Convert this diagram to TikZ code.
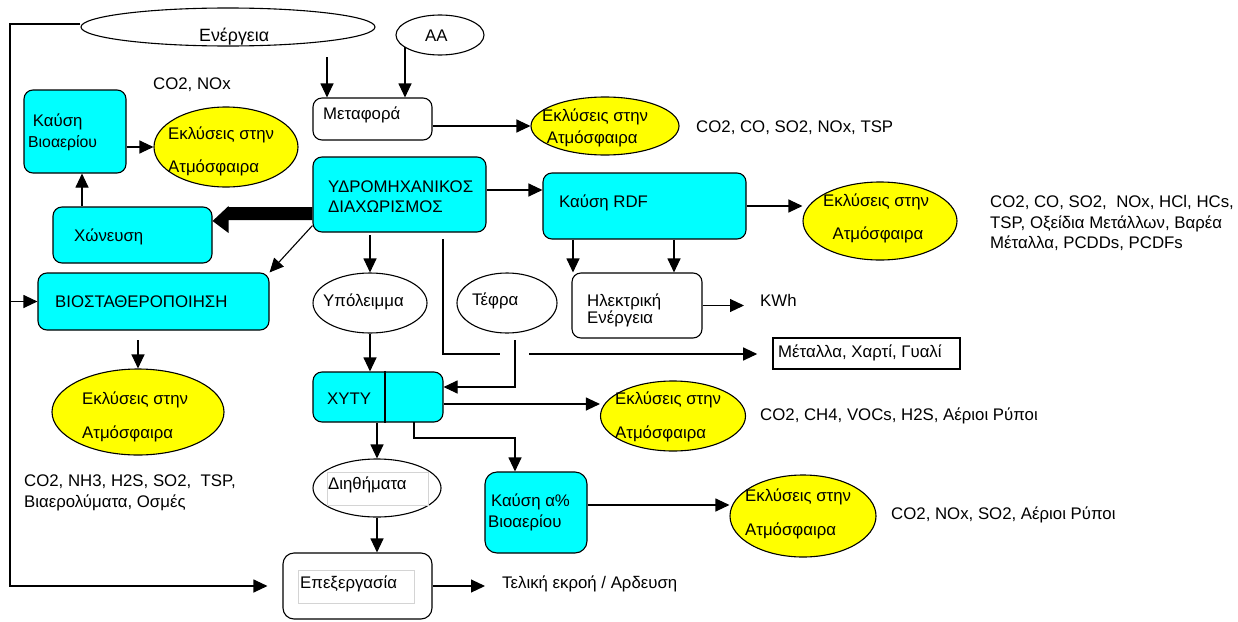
\documentclass[tikz,border=0pt]{standalone}
\usepackage{fontspec}
\setmainfont{Liberation Sans}
\usetikzlibrary{shapes.geometric,arrows.meta,calc}
\definecolor{aqua}{RGB}{0,255,255}
\definecolor{lemon}{RGB}{255,255,0}
\definecolor{framegray}{RGB}{212,212,212}

\begin{document}
\begin{tikzpicture}[x=1pt,y=-1pt,
  every node/.style={font=\fontsize{16.8}{19}\selectfont},
  rbox/.style={draw,line width=1.1pt,rounded corners=9pt,inner sep=0pt,fill=white},
  cbox/.style={rbox,fill=aqua},
  oval/.style={draw,ellipse,line width=1.1pt,inner sep=0pt,fill=white},
  yoval/.style={oval,fill=lemon},
  lbl/.style={anchor=west,inner sep=0pt,align=left},
  two/.style={lbl,font=\fontsize{16.8}{#1}\selectfont},
  wire/.style={line width=1.1pt},
  arr/.style={line width=1.1pt,-{Triangle[length=14pt,width=13pt]}},
  thin frame/.style={draw=framegray,line width=0.6pt,inner sep=0pt}]
\useasboundingbox (0,0) rectangle (1238,621);

% ---------- process boxes ----------
\node[rbox,minimum width=119pt,minimum height=42pt] (meta) at (372.5,119) {};
\node[cbox,minimum width=102pt,minimum height=83pt] (kbio) at (75,131.5) {};
\node[cbox,minimum width=159pt,minimum height=56pt] (xon) at (132.5,235) {};
\node[cbox,minimum width=173pt,minimum height=75pt] (ydro) at (399.5,194.5) {};
\node[cbox,minimum width=203pt,minimum height=66pt] (rdf) at (644.5,206) {};
\node[rbox,minimum width=130pt,minimum height=65pt] (elec) at (637,305.5) {};
\node[cbox,minimum width=231pt,minimum height=57pt] (viost) at (153.5,301.5) {};
\node[draw,line width=1.6pt,inner sep=0pt,minimum width=187pt,minimum height=31pt] (metal) at (866.5,353.5) {};
\node[cbox,minimum width=130pt,minimum height=50pt] (xyty) at (378,397) {};
\node[cbox,rounded corners=12pt,minimum width=102pt,minimum height=81pt] (ka) at (536,512.5) {};
\node[rbox,rounded corners=11pt,minimum width=149pt,minimum height=66pt] (epex) at (357.5,586) {};
\draw[wire] (xyty.north -| 385,0) -- (xyty.south -| 385,0);

% ---------- ovals ----------
\node[oval,minimum width=294pt,minimum height=38pt] (energ) at (228,27) {};
\node[oval,minimum width=88pt,minimum height=40pt] (aa) at (440,35) {};
\node[yoval,minimum width=144pt,minimum height=80pt] (elft) at (226,147) {};
\node[yoval,minimum width=148pt,minimum height=58pt] (etop) at (605,126) {};
\node[yoval,minimum width=154pt,minimum height=78pt] (eright) at (880,221) {};
\node[oval,minimum width=114pt,minimum height=60pt] (upol) at (370,303) {};
\node[oval,minimum width=100pt,minimum height=60pt] (tefra) at (507,303) {};
\node[yoval,minimum width=172pt,minimum height=86pt] (elb) at (138,412) {};
\node[yoval,minimum width=145pt,minimum height=70pt] (emid) at (673,416) {};
\node[oval,minimum width=128pt,minimum height=58pt] (dieth) at (377,488) {};
\node[yoval,minimum width=146pt,minimum height=82pt] (ebr) at (803,516) {};

% light text frames inside two shapes
\node[thin frame,minimum width=101pt,minimum height=33pt] (diethframe) at (377.5,488.5) {};
\node[thin frame,minimum width=116pt,minimum height=33pt] (epexframe) at (356,586.5) {};

% ---------- texts ----------
\node[lbl,font=\fontsize{17.8}{20}\selectfont] (tenerg) at (199,37) {Ενέργεια};
\node[lbl] (taa) at (425,36) {ΑΑ};
\node[lbl] (tco2a) at (153,85) {CO2, NOx};
\node[two=21] (tkbio) at (28,132) {\ Καύση\\{\fontsize{15.8}{17}\selectfont Βιοαερίου}};
\node[two=33] (telft) at (168,151.5) {Εκλύσεις στην\\Ατμόσφαιρα};
\node[lbl] (tmeta) at (323,115) {Μεταφορά};
\node[two=22] (tetop) at (542,128) {Εκλύσεις στην\\\ Ατμόσφαιρα};
\node[lbl] (tco2b) at (696,128) {CO2, CO, SO2, NOx, TSP};
\node[two=20] (tydro) at (328,197) {ΥΔΡΟΜΗΧΑΝΙΚΟΣ\\ΔΙΑΧΩΡΙΣΜΟΣ};
\node[lbl] (txon) at (74,237) {Χώνευση};
\node[lbl] (trdf) at (559,203) {Καύση RDF};
\node[two=33] (teright) at (823,218.5) {Εκλύσεις στην\\\ \ Ατμόσφαιρα};
\node[two=20.5] (tco2c) at (990,223) {CO2, CO, SO2,\ \ NOx, HCl, HCs,\\TSP, Οξείδια Μετάλλων, Βαρέα\\Μέταλλα, PCDDs, PCDFs};
\node[lbl] (tviost) at (55,302) {ΒΙΟΣΤΑΘΕΡΟΠΟΙΗΣΗ};
\node[lbl] (tupol) at (323,302) {Υπόλειμμα};
\node[lbl] (ttefra) at (472,301) {Τέφρα};
\node[two=16] (telec) at (587,310) {Ηλεκτρική\\Ενέργεια};
\node[lbl] (kwh) at (760,300) {KWh};
\node[lbl] (tmetal) at (778,353) {Μέταλλα, Χαρτί, Γυαλί};
\node[two=34] (telb) at (82,417) {Εκλύσεις στην\\Ατμόσφαιρα};
\node[two=20.5] (tco2d) at (24,493) {CO2, NH3, H2S, SO2,\ \ TSP,\\Βιαερολύματα, Οσμές};
\node[lbl] (txyty) at (327,399) {XYTY};
\node[two=34] (temid) at (615,417) {Εκλύσεις στην\\Ατμόσφαιρα};
\node[lbl] (tco2e) at (760,416) {CO2, CH4, VOCs, H2S, Αέριοι Ρύποι};
\node[two=21] (tka) at (488,512.5) {\,Καύση α\%\\Βιοαερίου};
\node[lbl] (tdieth) at (328,485) {Διηθήματα};
\node[two=34] (tebr) at (745,514) {Εκλύσεις στην\\Ατμόσφαιρα};
\node[lbl] (tco2f) at (891,515) {CO2, NOx, SO2, Αέριοι Ρύποι};
\node[lbl] (tepex) at (300,584) {Επεξεργασία};
\node[lbl] (fin) at (502,584) {Τελική εκροή / Αρδευση};

% ---------- connectors ----------
% energy supply line down the left side
\coordinate (lcorner) at (10,24);
\coordinate (ltap) at (10,301.5);
\coordinate (epexin) at ($(epex.west)+(-15,0)$);
\draw[arr] (energ.west |- lcorner) -- (lcorner) |- (epexin);
\draw[arr] (ltap) -- (viost.west);

% into transport
\coordinate (feed) at (327,57);
\draw[arr] (feed) -- (feed |- meta.north);
\coordinate (aafoot) at (405,47);
\draw[arr] (aafoot) -- (aafoot |- meta.north);
\draw[arr] (meta.east |- etop.west) -- (etop.west);

% biogas combustion branch
\draw[arr] (kbio.east |- elft.west) -- (elft.west);
\coordinate (xonup) at (82,0);
\draw[arr] (xon.north -| xonup) -- (kbio.south -| xonup);

% heavy arrow from separation to digestion
\coordinate (hb) at ($(xon.east)+(16,0)$);
\fill (ydro.west |- 0,207) -- (hb |- 0,207) -- (hb |- 0,206) -- (xon.east |- 0,221)
      -- (hb |- 0,233) -- (hb |- 0,220) -- (ydro.west |- 0,220) -- cycle;

% separation outputs
\draw[arr] ($(ydro.south west)+(0,-7)$) -- (viost.north east);
\draw[arr] (ydro.east |- 0,190) -- (rdf.west |- 0,190);
\draw[arr] (upol.north |- 0,235) -- (upol.north);
\coordinate (s1) at (443,239);
\coordinate (s2) at (500,354);
\coordinate (s3) at (529,354);
\draw[wire] (s1) |- (s2);
\draw[arr] (s3) -- ($(metal.west |- s3)+(-15,0)$);

% RDF combustion
\draw[arr] (rdf.east) -- (rdf.east -| eright.west);
\coordinate (r1) at (573,0);
\coordinate (r2) at (674,0);
\draw[arr] (rdf.south -| r1) -- (elec.north -| r1);
\draw[arr] (rdf.south -| r2) -- (elec.north -| r2);
\coordinate (kwhin) at ($(kwh.west)+(-16,0)$);
\draw[arr] (elec.east) -- (elec.east -| kwhin);

% ash to landfill
\coordinate (t1) at (515,340);
\draw[arr] (t1) |- (xyty.east |- 0,387);
\draw[arr] (upol.south) -- (upol.south |- xyty.north);

% biostabilisation emissions
\draw[arr] (elb.north |- 0,340) -- (elb.north);

% landfill outputs
\draw[arr] (xyty.east |- 0,404) -- (emid.west |- 0,404);
\coordinate (k0) at (414,422);
\coordinate (k1) at (515,438);
\draw[arr] (k0) |- (k1) -- (k1 |- ka.north);
\draw[arr] (ka.east |- 0,505) -- (ebr.west |- 0,505);
\draw[arr] (dieth.north |- xyty.south) -- (dieth.north);
\draw[arr] (dieth.south) -- (dieth.south |- epex.north);
\coordinate (finin) at ($(fin.west)+(-17,0)$);
\draw[arr] (epex.east) -- (epex.east -| finin);
\end{tikzpicture}
\end{document}
